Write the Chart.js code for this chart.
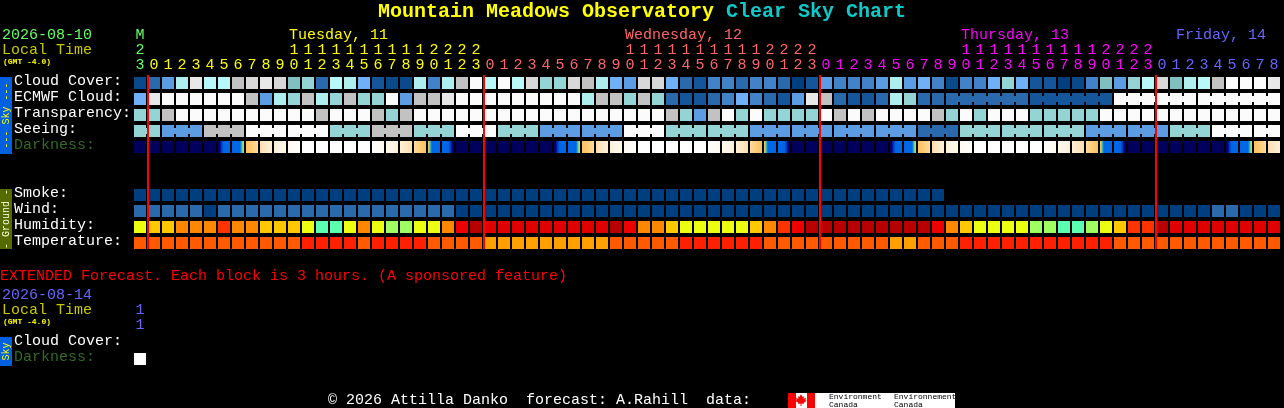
<!DOCTYPE html>
<html>
<head>
<meta charset="utf-8">
<title>Mountain Meadows Observatory Clear Sky Chart</title>
<script src="https://cdn.jsdelivr.net/npm/chart.js@4"></script>
<style>
    html, body { margin: 0; padding: 0; background: #000; overflow: hidden; }
    canvas { display: block; }
</style>
</head>
<body>
<canvas id="skyChart" width="1284" height="408"></canvas>
<script>
// local hour of each block, first block is 23h on Monday
const hours = [23,
    0,1,2,3,4,5,6,7,8,9,10,11,12,13,14,15,16,17,18,19,20,21,22,23,
    0,1,2,3,4,5,6,7,8,9,10,11,12,13,14,15,16,17,18,19,20,21,22,23,
    0,1,2,3,4,5,6,7,8,9,10,11,12,13,14,15,16,17,18,19,20,21,22,23,
    0,1,2,3,4,5,6,7,8];

// cloud cover in percent
const cloudCover = [5,20,40,70,90,75,75,80,85,90,85,60,65,20,75,70,50,10,5,5,70,
    30,70,80,100,75,100,75,85,65,65,85,80,70,50,40,85,85,50,20,10,30,30,20,30,30,20,0,10,40,30,30,
    30,40,70,40,50,30,5,30,30,50,65,50,10,10,0,5,30,60,40,65,75,85,60,70,75,80,100,100,100,90];
const ecmwfCloud = [50,90,100,100,100,100,100,100,80,40,70,65,80,70,65,80,65,65,100,40,80,
    80,90,100,100,100,100,100,100,100,100,100,70,80,80,65,80,65,20,10,10,20,30,50,30,20,10,40,90,80,20,10,
    10,20,70,65,20,20,20,20,20,20,20,20,10,10,10,10,10,10,100,100,100,100,100,100,100,100,100,100,100,100];

// 0 too cloudy, 1 poor, 2 below average, 3 average, 4 above average
const transparency = [2,2,1,0,0,0,0,0,0,0,0,0,0,1,0,0,0,1,2,1,0,
    0,0,0,0,0,0,0,0,0,0,0,0,0,0,0,0,0,1,2,3,1,0,2,0,2,2,2,2,0,1,0,
    1,0,0,0,0,1,2,0,2,0,0,0,2,2,2,2,2,0,0,0,0,0,0,0,0,0,0,0,0,0];
const seeing = [2,2,3,3,3,1,1,1,0,0,0,0,0,0,2,2,2,1,1,1,2,
    2,2,0,0,0,2,2,2,3,3,3,3,3,3,0,0,0,2,2,2,2,2,2,3,3,3,3,3,3,3,3,
    3,3,3,3,4,4,4,2,2,2,2,2,2,2,2,2,3,3,3,3,3,3,2,2,2,0,0,0,0,0];

// limiting magnitude at the block edges, so one more value than there are blocks
const darknessEdges = [5.5,5.5,5.5,5.5,5.5,5.5,4.4,1.8,-0.5,-1.3,-2.2,-3,-4,-4,-4,-4,-4,-4,-3,-2.2,-1.3,-0.5,1.8,4.4,
    5.5,5.5,5.5,5.5,5.5,5.5,4.4,1.8,-0.5,-1.3,-2.2,-3,-4,-4,-4,-4,-4,-4,-3,-2.2,-1.3,-0.5,1.8,4.4,
    5.5,5.5,5.5,5.5,5.5,5.5,4.4,1.8,-0.5,-1.3,-2.2,-3,-4,-4,-4,-4,-4,-4,-3,-2.2,-1.3,-0.5,1.8,4.4,
    5.5,5.5,5.5,5.5,5.5,5.5,4.4,1.8,-0.5,-1.3,-2.2];

// smoke forecast stops before the end of the other rows
const smoke = [0,0,0,0,0,0,0,0,0,0,0,0,0,0,0,0,0,0,0,0,0,0,0,0,0,0,0,0,0,
    0,0,0,0,0,0,0,0,0,0,0,0,0,0,0,0,0,0,0,0,0,0,0,0,0,0,0,0,0];
// wind in mph
const wind = [8,8,8,8,8,5,8,8,8,8,8,8,8,8,8,8,8,8,8,8,8,8,8,
    5,5,5,5,5,5,5,5,5,5,5,5,5,5,5,5,5,5,5,5,5,5,5,5,5,5,5,5,5,
    5,5,5,5,5,5,5,5,5,5,5,5,5,5,5,5,5,5,5,5,5,5,5,5,5,
    8,8,5,5,5];
// relative humidity in percent
const humidity = [50,55,55,60,60,60,70,60,60,55,55,55,50,30,30,50,60,50,40,40,50,
    50,60,80,95,85,85,85,85,85,85,85,85,85,95,80,60,60,55,50,50,50,50,50,55,60,70,80,95,95,95,95,
    95,95,95,95,95,80,60,55,50,50,50,50,40,40,30,30,40,50,55,70,70,95,85,85,85,85,85,85,85,85];
// temperature in degrees C
const temperature = [24,24,24,24,24,24,24,24,24,24,24,24,28,28,28,28,24,28,28,28,28,
    24,24,24,24,20,20,20,20,20,20,20,20,20,24,24,24,24,24,28,28,28,28,28,28,24,24,24,24,24,24,24,
    24,24,20,20,24,24,24,28,28,28,28,28,28,28,28,28,28,28,24,24,24,24,24,24,24,24,24,24,24,24];

// extended forecast, 3 hour blocks
const extendedDarknessEdges = [-4, -4];

const rowLabels = ['Cloud Cover:', 'ECMWF Cloud:', 'Transparency:', 'Seeing:', 'Darkness:',
    'Smoke:', 'Wind:', 'Humidity:', 'Temperature:', 'Cloud Cover:', 'Darkness:'];
const rowSlots = [0, 1, 2, 3, 4, 7, 8, 9, 10, 16.25, 17.25];
const midnightBlocks = [1, 25, 49, 73];
const dayNames = ['Tuesday, 11', 'Wednesday, 12', 'Thursday, 13', 'Friday, 14'];
const dayNameBlocks = [11, 35, 59, 74.36];

const cloudColours = {
    0: '#003f7f', 5: '#0a4a8a', 10: '#15559a', 20: '#2a6aac', 30: '#4282c8', 40: '#5c9ce2', 50: '#70b0f6',
    60: '#80c0c0', 65: '#94d4d4', 70: '#aeeeee', 75: '#b8f8f8', 80: '#c2c2c2', 85: '#d8d8d8', 90: '#e8e8e8', 100: '#fbfbfb'
};
const skyColours = ['#fbfbfb', '#c2c2c2', '#94d4d4', '#5c9ce2', '#2a6aac'];
const smokeColours = { 0: '#003f7f' };
const windColours = { 5: '#003f7f', 8: '#2a6aac' };
const humidityColours = {
    30: '#5cffb0', 40: '#a0ff60', 50: '#ecff10', 55: '#ffc800', 60: '#ff8800',
    70: '#ff3300', 80: '#ee0000', 85: '#e00000', 95: '#b80000'
};
const temperatureColours = { 20: '#ffa000', 24: '#ff5a00', 28: '#ff2000' };
// magnitude -> colour, bright sky to full dark
const darknessRamp = [
    [-4, '#ffffff'], [-2.5, '#fff4e4'], [-1.5, '#ffe4bc'], [-1, '#ffd080'], [-0.5, '#ffc060'],
    [-0.3, '#c0d050'], [-0.1, '#40c8b0'], [0.2, '#0068e6'], [3.2, '#0068e6'], [3.6, '#0040c0'],
    [4, '#000090'], [4.3, '#00005c'], [6, '#00005c']
];
const dayColours = ['#66ff66', '#ffff00', '#ff6666', '#ff00ff', '#6666ff'];

const FONT = '"Liberation Mono", monospace';
const CELL = 0.375; // half a block, in row units

const dayOfBlock = i => midnightBlocks.filter(b => b <= i).length;

const tickLines = (hour, i) => {
    const lines = [hour >= 10 ? String(Math.floor(hour / 10)) : '', String(hour % 10)];
    return i === 0 ? ['M', ...lines] : lines;
};

const barRow = (slot, values, colours) => ({
    type: 'bar',
    data: values.map(() => [slot - CELL, slot + CELL]),
    backgroundColor: ctx => colours[values[ctx.dataIndex]],
    grouped: false,
    barThickness: 12,
    borderWidth: 0,
    inflateAmount: 0,
    order: 2
});

// the thin joins between blocks that come from the same coarser forecast step
const bridgeRow = (slot, values, colours, spanOf) => ({
    type: 'line',
    data: values.map(() => slot),
    borderWidth: 6,
    borderColor: 'transparent',
    pointRadius: 0,
    tension: 0,
    order: 3,
    segment: {
        borderColor: ctx => spanOf(ctx.p0DataIndex) === spanOf(ctx.p1DataIndex)
            ? colours[values[ctx.p0DataIndex]] : 'transparent'
    }
});

const darknessColourAt = mag => {
    const ramp = darknessRamp;
    for (let i = 1; i < ramp.length; i++) {
        if (mag <= ramp[i][0]) {
            const t = (mag - ramp[i - 1][0]) / (ramp[i][0] - ramp[i - 1][0]);
            return mixColour(ramp[i - 1][1], ramp[i][1], t);
        }
    }
    return ramp[ramp.length - 1][1];
};

const mixColour = (a, b, t) => {
    const channel = (hex, n) => parseInt(hex.substr(1 + n * 2, 2), 16);
    const out = [0, 1, 2].map(n => Math.round(channel(a, n) + (channel(b, n) - channel(a, n)) * t));
    return `rgb(${out[0]},${out[1]},${out[2]})`;
};

const darknessRow = (slot, edges) => ({
    type: 'bar',
    data: edges.slice(1).map(() => [slot - CELL, slot + CELL]),
    backgroundColor: ctx => {
        const i = ctx.dataIndex;
        const { chart } = ctx;
        if (!chart.chartArea) return '#000';
        const centre = chart.scales.x.getPixelForValue(i);
        const gradient = chart.ctx.createLinearGradient(centre - 6, 0, centre + 6, 0);
        for (let s = 0; s <= 12; s++) {
            const mag = edges[i] + (edges[i + 1] - edges[i]) * s / 12;
            gradient.addColorStop(s / 12, darknessColourAt(mag));
        }
        return gradient;
    },
    grouped: false,
    barThickness: 12,
    borderWidth: 0,
    inflateAmount: 0,
    order: 2
});

const midnightLine = block => ({
    type: 'line',
    xAxisID: 'xMidnight',
    data: [{ x: block, y: -0.5 }, { x: block, y: 10.375 }],
    borderColor: '#ff0000',
    borderWidth: 2,
    pointRadius: 0,
    clip: false,
    order: 0
});

const ecmwfSpan = i => i < 58 ? `single${i}` : Math.floor((i - 58) / 6);
const seeingSpan = i => Math.floor((i + 1) / 3);

const text = (ctx, str, x, y, font, colour, align = 'left') => {
    ctx.font = font;
    ctx.fillStyle = colour;
    ctx.textAlign = align;
    ctx.textBaseline = 'middle';
    ctx.fillText(str, x, y);
};

const sideBar = (ctx, top, height, colour, str, textColour) => {
    ctx.fillStyle = colour;
    ctx.fillRect(0, top, 12, height);
    ctx.save();
    ctx.translate(6, top + height / 2);
    ctx.rotate(-Math.PI / 2);
    text(ctx, str, 0, 0, `10px ${FONT}`, textColour, 'center');
    ctx.restore();
};

const mapleLeaf = (ctx, cx, cy) => {
    const points = [[0,-6],[1.5,-3],[3,-4],[2.5,-1],[5,-2.5],[4.5,0],[5.5,1],[2.5,3],[3,4],[0.5,3.5],[0.5,6],
        [-0.5,6],[-0.5,3.5],[-3,4],[-2.5,3],[-5.5,1],[-4.5,0],[-5,-2.5],[-2.5,-1],[-3,-4],[-1.5,-3]];
    ctx.beginPath();
    points.forEach(([x, y], i) => i ? ctx.lineTo(cx + x, cy + y) : ctx.moveTo(cx + x, cy + y));
    ctx.closePath();
    ctx.fill();
};

const pageText = {
    id: 'pageText',
    afterDraw(chart) {
        const { ctx } = chart;
        const x = chart.scales.x;
        const label = `15px ${FONT}`;

        text(ctx, 'Mountain Meadows Observatory', 378, 12, `bold 20px ${FONT}`, '#ffff00');
        text(ctx, 'Clear Sky Chart', 726, 12, `bold 20px ${FONT}`, '#10c8c8');

        text(ctx, '2026-08-10', 2, 35, label, dayColours[0]);
        text(ctx, 'Local Time', 2, 50, label, '#c8c800');
        text(ctx, '(GMT -4.0)', 3, 62, `bold 8px ${FONT}`, '#ffff00');
        dayNames.forEach((name, i) => {
            text(ctx, name, x.getPixelForValue(dayNameBlocks[i]) - 5, 35, label, dayColours[i + 1]);
        });

        sideBar(ctx, 77, 77, '#0060e0', '--- Sky ---', '#ffff00');
        sideBar(ctx, 189, 60, '#556b00', '- Ground -', '#ffffe0');
        sideBar(ctx, 337, 29, '#0060e0', 'Sky', '#ffff00');

        text(ctx, 'EXTENDED Forecast. Each block is 3 hours. (A sponsored feature)', 0, 276, label, '#ff0000');
        text(ctx, '2026-08-14', 2, 295, label, dayColours[4]);
        text(ctx, 'Local Time', 2, 310, label, '#c8c800');
        text(ctx, '(GMT -4.0)', 3, 322, `bold 8px ${FONT}`, '#ffff00');
        text(ctx, '1', x.getPixelForValue(0), 310, label, dayColours[4], 'center');
        text(ctx, '1', x.getPixelForValue(0), 325, label, dayColours[4], 'center');

        text(ctx, '© 2026 Attilla Danko  forecast: A.Rahill  data:', 328, 400, label, '#ffffff');

        // Environment Canada logo
        ctx.fillStyle = '#ffffff';
        ctx.fillRect(788, 393, 167, 15);
        ctx.fillStyle = '#ff0000';
        ctx.fillRect(788, 393, 8, 15);
        ctx.fillRect(807, 393, 8, 15);
        mapleLeaf(ctx, 801, 400);
        const small = `8px ${FONT}`;
        text(ctx, 'Environment', 829, 397, small, '#000000');
        text(ctx, 'Canada', 829, 405, small, '#000000');
        text(ctx, 'Environnement', 894, 397, small, '#000000');
        text(ctx, 'Canada', 894, 405, small, '#000000');
    }
};

new Chart(document.getElementById('skyChart').getContext('2d'), {
    data: {
        labels: hours.map(tickLines),
        datasets: [
            ...midnightBlocks.map(midnightLine),
            barRow(0, cloudCover, cloudColours),
            barRow(1, ecmwfCloud, cloudColours),
            bridgeRow(1, ecmwfCloud, cloudColours, ecmwfSpan),
            barRow(2, transparency, skyColours),
            barRow(3, seeing, skyColours),
            bridgeRow(3, seeing, skyColours, seeingSpan),
            darknessRow(4, darknessEdges),
            barRow(7, smoke, smokeColours),
            barRow(8, wind, windColours),
            barRow(9, humidity, humidityColours),
            barRow(10, temperature, temperatureColours),
            darknessRow(17.25, extendedDarknessEdges)
        ]
    },
    options: {
        responsive: false,
        animation: false,
        events: [],
        layout: { padding: { left: 14, right: 3, top: 0, bottom: 41 } },
        plugins: { legend: { display: false }, tooltip: { enabled: false }, title: { display: false } },
        scales: {
            x: {
                type: 'category',
                position: 'top',
                offset: true,
                grid: { display: false, drawTicks: false },
                border: { display: false },
                afterFit: scale => { scale.height = 75; },
                ticks: {
                    autoSkip: false,
                    maxRotation: 0,
                    minRotation: 0,
                    padding: 2,
                    font: { family: FONT, size: 15, lineHeight: '15px' },
                    color: ctx => dayColours[dayOfBlock(ctx.index)]
                }
            },
            xMidnight: {
                type: 'linear',
                display: false,
                min: -1 / 14,
                max: 82 - 1 / 14
            },
            y: {
                type: 'linear',
                position: 'left',
                reverse: true,
                min: -0.5,
                max: 17.75,
                grid: { display: false, drawTicks: false },
                border: { display: false },
                afterFit: scale => { scale.width = 119; },
                // labels sit a touch above the middle of their row
                afterBuildTicks: scale => { scale.ticks = rowSlots.map(value => ({ value: value - 0.1 })); },
                ticks: {
                    autoSkip: false,
                    crossAlign: 'far',
                    padding: 0,
                    font: { family: FONT, size: 15 },
                    color: ctx => rowLabels[ctx.index] === 'Darkness:' ? '#336b22' : '#ffffff',
                    callback: (value, index) => rowLabels[index]
                }
            }
        }
    },
    plugins: [pageText]
});
</script>
</body>
</html>
